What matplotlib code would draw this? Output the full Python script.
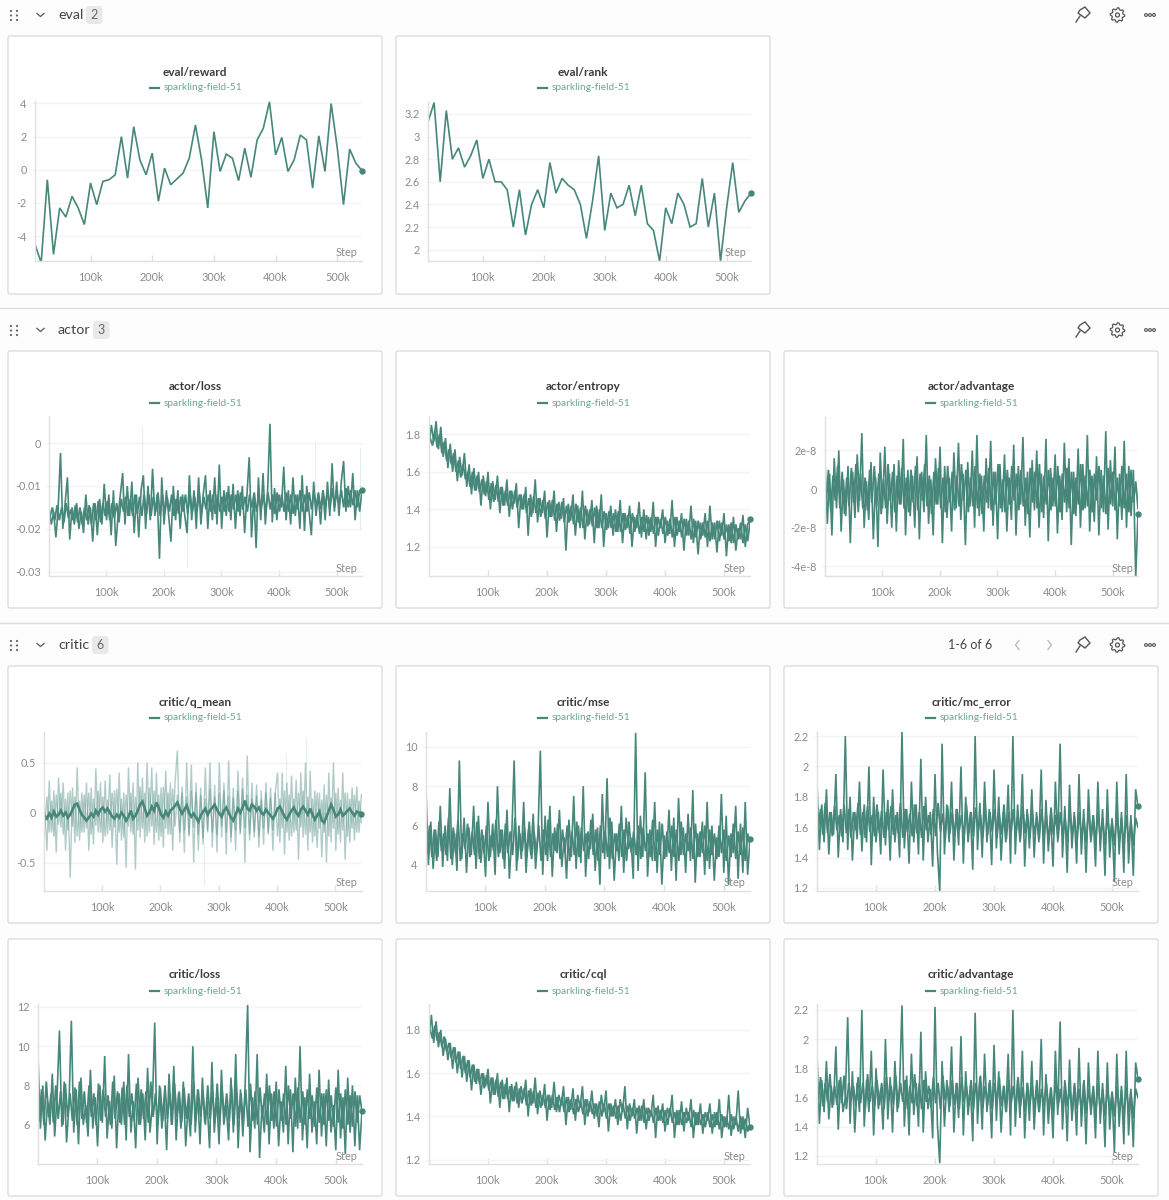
import numpy as np
import matplotlib
matplotlib.use("Agg")
import matplotlib.pyplot as plt
from matplotlib.patches import FancyBboxPatch, Circle, Polygon

plt.rcParams['font.family'] = ['Lato', 'DejaVu Sans']

RUN = "sparkling-field-51"
XTICKS = [100000, 200000, 300000, 400000, 500000]
XLABELS = ["100k", "200k", "300k", "400k", "500k"]

eval_reward = [-4.5, -5.6, -0.6, -5.1, -2.3, -2.85, -1.6, -2.3, -3.3, -0.8, -2.1, -0.7, -0.6, -0.3, 2.0, -0.5, 2.6, 0.6,
               -0.3, 1.0, -1.9, 0.1, -0.9, -0.55, -0.2, 0.7, 2.7, 0.6, -2.3, 2.3, -0.1, 0.95, 0.7, -0.65, 1.3, -0.45,
               1.8, 2.5, 4.1, 0.9, 1.95, -0.1, 0.6, 2.1, 1.8, -1.1, 2.05, -0.1, 4.0, 1.3, -2.1, 1.25, 0.4, -0.05]
eval_rank = [3.13, 3.3, 2.6, 3.23, 2.8, 2.9, 2.73, 2.83, 2.97, 2.63, 2.8, 2.6, 2.6, 2.53, 2.2, 2.53, 2.13, 2.4,
             2.53, 2.37, 2.77, 2.5, 2.63, 2.57, 2.53, 2.4, 2.1, 2.43, 2.83, 2.17, 2.5, 2.37, 2.4, 2.57, 2.3, 2.57,
             2.23, 2.17, 1.9, 2.37, 2.23, 2.5, 2.4, 2.2, 2.23, 2.63, 2.2, 2.5, 1.9, 2.37, 2.77, 2.33, 2.43, 2.5]

# thousandths
actor_loss = [-15, -19, -16, -22, -15, -2.3, -20, -14, -8, -22.5, -15, -19, -14, -20, -16, -21, -12, -19, -15, -23,
              -14, -21.5, -13, -19, -9.5, -18, -12, -21.5, -11, -24, -17, -12, -7, -19, -10, -17, -9, -21, -12, -22,
              -11, -7.5, -20, -10, -18, -6, -17, -12, -27, -8, -19, -11, -17, -23, -10, -18, -11, -20, -12, -17,
              -21, -7.5, -18, -11, -20, -8, -19, -12, -7.5, -20, -11, -18, -8, -19, -5, -20, -11, -17, -10, -18,
              -9.5, -20, -11, -17, -10, -21, -12, -3.3, -22, -12, -24.5, -8, -18, -7, -19, -11, 4.5, -18.5, -10.5, -18,
              -12, -15, -5.5, -18, -11, -19, -8, -17, -12, -20, -7.5, -20.5, -10, -16, -21.5, -9, -17, -12, -19, -11,
              -18, -9, -17, -4.7, -16, -9, -17, -9, -4.2, -16, -10, -15, -7, -18, -11, -16, -11]
actor_loss_b = [-17, -15, -18, -14.5, -18, -15, -18.5, -14, -17.5, -15.5, -18, -14.5, -18.5, -15, -19, -15, -18, -14.5, -19, -14,
                -18, -13.5, -18.5, -14, -17, -13.5, -18, -14, -17.5, -14, -18.5, -13, -16, -12.5, -17, -13, -17, -12, -16.5, -12.5,
                -17, -12, -16.5, -12, -17, -12.5, -16, -11.5, -17, -12, -16.5, -12.5, -16, -12, -17, -13, -16.5, -12.5, -16, -12,
                -16.5, -12, -16, -12.5, -16, -11.5, -16.5, -12.5, -15.5, -12, -16, -12, -16.5, -12, -16, -12.5, -16, -11.5, -16, -12,
                -15.5, -12, -16, -11.5, -15.5, -12.5, -16, -12, -15, -11.5, -16, -12.5, -15.5, -12, -16, -11.5, -15.5, -12, -16.5, -11.5,
                -16, -12, -16, -11.5, -16, -12, -16.5, -12, -15.5, -11, -16, -12, -16, -11.5, -15.5, -11, -15, -11.5, -15.5, -11,
                -15, -11, -15.5, -10.5, -15, -11.5, -14.5, -11, -15, -10.5, -15, -11, -14.5, -11, -15, -11, -12]

actor_entropy = [1.74, 1.85, 1.76, 1.87, 1.72, 1.84, 1.68, 1.78, 1.62, 1.75, 1.6, 1.72, 1.55, 1.68, 1.58, 1.7, 1.52, 1.64, 1.48, 1.62,
                 1.5, 1.6, 1.42, 1.58, 1.47, 1.6, 1.4, 1.55, 1.45, 1.58, 1.38, 1.52, 1.42, 1.56, 1.36, 1.5, 1.43, 1.54, 1.3, 1.48,
                 1.4, 1.52, 1.26, 1.48, 1.38, 1.56, 1.33, 1.46, 1.38, 1.5, 1.25, 1.45, 1.36, 1.5, 1.28, 1.44, 1.35, 1.46, 1.18, 1.43,
                 1.34, 1.48, 1.26, 1.42, 1.3, 1.5, 1.24, 1.4, 1.32, 1.45, 1.22, 1.42, 1.3, 1.48, 1.2, 1.38, 1.3, 1.42, 1.26, 1.4,
                 1.28, 1.45, 1.22, 1.38, 1.3, 1.42, 1.2, 1.36, 1.3, 1.44, 1.25, 1.4, 1.24, 1.36, 1.28, 1.44, 1.2, 1.36, 1.3, 1.4,
                 1.22, 1.34, 1.27, 1.45, 1.2, 1.36, 1.28, 1.38, 1.18, 1.35, 1.26, 1.42, 1.22, 1.34, 1.16, 1.33, 1.26, 1.38, 1.2, 1.42,
                 1.24, 1.33, 1.17, 1.34, 1.26, 1.38, 1.15, 1.32, 1.22, 1.36, 1.18, 1.3, 1.24, 1.37, 1.2, 1.32, 1.35]
actor_entropy_b = [1.78, 1.74, 1.82, 1.73, 1.8, 1.7, 1.76, 1.66, 1.72, 1.64, 1.7, 1.6, 1.66, 1.57, 1.64, 1.56, 1.6, 1.52, 1.6, 1.5,
                   1.58, 1.49, 1.56, 1.48, 1.55, 1.45, 1.54, 1.44, 1.53, 1.44, 1.52, 1.42, 1.5, 1.42, 1.5, 1.4, 1.5, 1.41, 1.48, 1.4,
                   1.48, 1.38, 1.46, 1.36, 1.47, 1.38, 1.46, 1.36, 1.45, 1.35, 1.44, 1.36, 1.45, 1.34, 1.43, 1.34, 1.44, 1.33, 1.42, 1.33,
                   1.42, 1.32, 1.43, 1.33, 1.41, 1.3, 1.42, 1.31, 1.4, 1.31, 1.41, 1.3, 1.4, 1.3, 1.39, 1.29, 1.39, 1.3, 1.38, 1.28,
                   1.39, 1.28, 1.38, 1.29, 1.37, 1.27, 1.38, 1.28, 1.37, 1.27, 1.36, 1.28, 1.37, 1.26, 1.36, 1.27, 1.36, 1.26, 1.35, 1.27,
                   1.36, 1.26, 1.35, 1.25, 1.36, 1.26, 1.34, 1.25, 1.35, 1.26, 1.34, 1.24, 1.35, 1.25, 1.34, 1.24, 1.33, 1.25, 1.34, 1.23,
                   1.33, 1.24, 1.34, 1.23, 1.33, 1.24, 1.32, 1.23, 1.33, 1.22, 1.32, 1.24, 1.33, 1.22, 1.32, 1.23, 1.33]

# units of 1e-8
actor_advantage = [1.5, -1.8, 0.8, -2.4, 1.6, -1, 2.0, -2.2, 0.5, -1.4, 1.2, -2.8, 0.9, -1.5, 1.8, -0.6, 2.9, -2.0, 0.4, -1.6,
                   1.4, -2.6, 0.6, -3.0, 1.9, -1, 2.2, -1.8, 0.8, -2.0, 1.3, -2.2, 1.5, -0.8, 2.6, -2.4, 1.0, -1.4, 0.7, -2.0,
                   1.7, -2.6, 0.9, -1.2, 2.8, -1.8, 0.5, -2.4, 1.6, -0.8, 2.2, -2.8, 1.2, -1.5, 0.6, -2.2, 1.9, -1, 2.4, -1.6,
                   0.8, -2.9, 1.4, -0.9, 2.0, -2.0, 2.8, -1.4, 0.7, -2.2, 1.6, -1, 2.5, -1.9, 0.9, -2.6, 1.3, -1.2, 1.8, -2.2,
                   0.6, -1.6, 2.3, -2.4, 1.2, -0.8, 2.7, -1.9, 0.9, -2.5, 1.5, -1.1, 2.0, -2.0, 0.8, -1.5, 2.6, -2.7, 1.1, -0.9,
                   1.8, -2.3, 0.7, -1.6, 2.4, -1.2, 1.6, -2.9, 0.9, -1.4, 2.1, -2.0, 1.3, -1, 2.8, -2.2, 0.7, -1.7, 1.7, -2.4,
                   1.0, -1.2, 3.0, -2.1, 1.5, -0.9, 2.2, -2.6, 0.8, -1.6, 2.5, -2.0, 1.2, -1.4, 1.0, -4.6, -1.3]
actor_advantage_b = [-0.8, 1.0, -1.1, 0.7, -0.6, 1.2, -1.0, 0.9, -1.3, 0.6, -0.9, 1.1, -0.7, 1.3, -1.2, 0.8, -1.0, 0.6, -1.1, 1.0,
                     -0.7, 1.2, -0.9, 0.8, -1.3, 0.5, -1.0, 1.3, -0.6, 0.9, -1.2, 0.7, -0.8, 1.1, -1.0, 0.6, -1.2, 1.0, -0.7, 1.2,
                     -1.1, 0.8, -0.6, 1.3, -0.9, 0.7, -1.3, 0.9, -0.8, 1.1, -1.0, 0.6, -1.2, 1.2, -0.7, 0.9, -1.1, 0.7, -0.9, 1.3,
                     -0.6, 1.0, -1.2, 0.6, -0.9, 1.2, -1.0, 0.8, -1.3, 0.7, -0.7, 1.1, -1.1, 0.9, -0.8, 1.3, -1.0, 0.5, -1.2, 1.0,
                     -0.8, 1.2, -0.6, 0.8, -1.1, 1.0, -0.9, 0.6, -1.3, 1.1, -0.7, 0.9, -1.0, 1.3, -1.2, 0.7, -0.8, 1.0, -1.1, 0.6,
                     -0.9, 1.2, -1.2, 0.8, -0.7, 1.1, -1.0, 0.9, -1.3, 0.6, -0.8, 1.3, -1.1, 0.7, -0.9, 1.0, -1.2, 0.8, -0.6, 1.2,
                     -1.0, 0.7, -1.3, 1.1, -0.8, 0.9, -1.1, 0.6, -0.9, 1.2, -1.0, 0.8, -1.2, 1.0, -0.7, 0.4, -1.0]

q_mean_raw = [0.05, -0.38, 0.32, -0.2, 0.22, -0.4, 0.35, -0.15, 0.3, -0.38, 0.2, -0.65, 0.25, -0.3, 0.45, -0.28, 0.2, -0.2, 0.3, -0.38,
              0.25, -0.32, 0.44, -0.2, 0.3, -0.3, 0.32, -0.22, 0.38, -0.35, 0.22, -0.52, 0.4, -0.28, 0.2, -0.55, 0.45, -0.2, 0.3, -0.57,
              0.5, -0.25, 0.35, -0.3, 0.5, -0.2, 0.45, -0.32, 0.4, -0.28, 0.25, -0.35, 0.42, -0.22, 0.3, -0.38, 0.3, 0.62, -0.3, 0.2,
              -0.4, 0.5, -0.22, 0.48, -0.5, 0.3, -0.38, 0.25, -0.32, 0.45, -0.2, 0.5, -0.35, 0.28, -0.4, 0.5, -0.25, 0.3, -0.42, 0.52,
              -0.3, 0.25, -0.38, 0.42, -0.22, 0.35, -0.5, 0.57, -0.28, 0.3, -0.25, 0.28, -0.35, 0.22, -0.32, 0.3, -0.2, 0.25, -0.38, 0.2,
              0.4, -0.3, 0.4, -0.42, 0.3, -0.28, 0.37, -0.2, 0.33, -0.47, 0.4, -0.25, 0.5, -0.38, 0.42, -0.3, 0.22, -0.35, 0.2, -0.45,
              0.28, -0.5, 0.4, -0.3, 0.5, -0.38, 0.25, -0.3, 0.4, -0.47, 0.2, -0.3, 0.25, -0.28, 0.26, -0.2, 0.18]
q_mean_raw_b = [-0.15, 0.16, -0.2, 0.12, -0.24, 0.18, -0.12, 0.2, -0.22, 0.14, -0.18, 0.22, -0.14, 0.16, -0.24, 0.12, -0.2, 0.18, -0.16, 0.2,
                -0.22, 0.14, -0.13, 0.22, -0.2, 0.16, -0.24, 0.13, -0.18, 0.2, -0.15, 0.24, -0.2, 0.14, -0.25, 0.18, -0.14, 0.2, -0.22, 0.16,
                -0.18, 0.26, -0.16, 0.2, -0.24, 0.25, -0.14, 0.22, -0.2, 0.18, -0.24, 0.26, -0.16, 0.2, -0.22, 0.24, -0.14, 0.18, -0.2, 0.26,
                -0.18, 0.16, -0.24, 0.22, -0.15, 0.2, -0.22, 0.18, -0.26, 0.14, -0.18, 0.24, -0.2, 0.16, -0.23, 0.2, -0.14, 0.22, -0.2, 0.17,
                -0.25, 0.15, -0.18, 0.22, -0.2, 0.24, -0.16, 0.18, -0.22, 0.14, -0.2, 0.17, -0.24, 0.13, -0.16, 0.2, -0.22, 0.15, -0.18, 0.2,
                -0.24, 0.14, -0.16, 0.22, -0.2, 0.18, -0.24, 0.14, -0.18, 0.2, -0.15, 0.22, -0.22, 0.16, -0.2, 0.14, -0.24, 0.2, -0.16, 0.13,
                -0.2, 0.18, -0.24, 0.15, -0.16, 0.2, -0.22, 0.13, -0.18, 0.2, -0.24, 0.14, -0.16, 0.18, -0.2, 0.12, -0.1]
q_mean_smooth = [-0.03, -0.06, -0.01, -0.05, 0.01, -0.04, -0.02, 0.02, -0.03, 0.0, -0.05, -0.02, 0.03, 0.08, 0.09, 0.03, -0.02, -0.05, -0.08, -0.05,
                 -0.01, -0.04, 0.02, -0.02, 0.03, 0.05, 0.01, 0.04, 0.0, -0.04, -0.06, -0.02, -0.05, 0.0, -0.03, -0.08, -0.04, 0.02, -0.06, -0.03,
                 0.02, 0.08, 0.11, 0.04, -0.03, 0.0, 0.06, 0.02, 0.1, 0.05, -0.02, -0.05, 0.01, -0.03, 0.02, 0.04, 0.07, 0.1, 0.04, -0.01,
                 0.03, 0.07, 0.0, -0.04, -0.01, -0.05, -0.09, -0.03, 0.01, 0.04, -0.02, 0.02, 0.05, 0.08, 0.03, -0.01, -0.04, 0.02, 0.05, 0.0,
                 -0.05, -0.08, -0.02, 0.04, 0.0, 0.05, 0.12, 0.04, 0.02, 0.08, 0.06, 0.02, 0.05, 0.0, -0.02, 0.03, 0.0, -0.03, -0.06, -0.02,
                 0.04, 0.06, 0.01, -0.04, -0.07, -0.02, 0.02, 0.05, 0.0, -0.03, 0.03, 0.06, 0.02, -0.02, 0.04, -0.02, -0.07, -0.03, 0.01, -0.08,
                 -0.1, -0.04, 0.02, 0.08, 0.03, -0.04, -0.02, 0.03, -0.03, -0.01, 0.02, 0.04, 0.0, -0.03, 0.01, 0.0, -0.01]

critic_mse = [7.8, 4.0, 6.2, 3.8, 5.8, 4.4, 7.0, 3.9, 6.0, 4.2, 7.9, 4.0, 5.6, 3.7, 9.3, 4.3, 6.4, 3.6, 5.9, 4.5,
              7.0, 3.8, 6.5, 4.1, 5.5, 3.4, 7.2, 4.4, 6.1, 3.5, 8.0, 4.6, 5.8, 3.8, 6.8, 3.3, 5.5, 9.3, 3.7, 6.0,
              4.3, 7.2, 3.6, 5.8, 4.5, 6.6, 3.8, 5.6, 9.8, 3.5, 6.5, 4.2, 7.0, 3.4, 5.9, 4.6, 6.8, 3.9, 5.4, 3.3,
              6.3, 4.4, 7.5, 3.8, 6.0, 4.1, 8.0, 3.4, 5.7, 4.8, 6.6, 3.7, 5.9, 3.0, 7.6, 4.3, 8.4, 3.8, 6.2, 3.2,
              5.6, 4.2, 7.0, 3.6, 6.4, 4.8, 5.4, 3.3, 10.7, 3.7, 6.5, 4.4, 8.7, 3.4, 5.8, 4.2, 7.2, 3.6, 6.2, 3.0,
              5.5, 4.4, 6.8, 3.7, 6.4, 3.2, 7.4, 4.5, 5.9, 3.6, 6.6, 4.2, 7.8, 3.1, 5.6, 4.4, 6.2, 3.5, 7.2, 3.8,
              6.0, 3.2, 5.4, 4.4, 7.6, 3.6, 6.5, 3.0, 5.6, 4.6, 7.0, 3.3, 6.1, 3.6, 7.2, 3.5, 5.3]
critic_mse_b = [4.6, 6.0, 4.4, 5.8, 4.2, 6.2, 4.7, 5.6, 4.5, 6.4, 4.3, 5.9, 4.6, 6.3, 4.2, 5.6, 4.8, 6.1, 4.4, 5.7,
                4.5, 6.2, 4.3, 5.8, 4.6, 6.0, 4.2, 5.5, 4.7, 6.3, 4.4, 5.8, 4.3, 6.1, 4.6, 5.7, 4.5, 6.4, 4.2, 5.6,
                4.7, 5.9, 4.4, 6.2, 4.3, 5.7, 4.6, 6.0, 4.2, 5.8, 4.5, 6.3, 4.4, 5.6, 4.7, 6.1, 4.3, 5.8, 4.6, 6.0,
                4.2, 5.7, 4.5, 6.2, 4.4, 5.9, 4.7, 5.6, 4.3, 6.3, 4.5, 5.8, 4.2, 6.0, 4.6, 5.7, 4.4, 6.4, 4.3, 5.6,
                4.7, 6.1, 4.4, 5.8, 4.2, 6.2, 4.6, 5.7, 4.5, 6.0, 4.3, 5.9, 4.7, 5.6, 4.4, 6.3, 4.2, 5.8, 4.5, 6.1,
                4.3, 5.7, 4.6, 6.0, 4.4, 5.8, 4.2, 6.2, 4.5, 5.6, 4.7, 5.9, 4.3, 6.1, 4.4, 5.7, 4.6, 6.0, 4.2, 5.8,
                4.5, 5.6, 4.3, 6.0, 4.6, 5.8, 4.2, 5.5, 4.4, 6.1, 4.3, 5.7, 4.5, 5.9, 4.2, 5.6, 5.0]

critic_mc_error = [1.9, 1.45, 1.75, 1.5, 1.85, 1.42, 1.7, 1.55, 1.95, 1.4, 1.72, 1.5, 2.2, 1.45, 1.8, 1.38, 1.7, 1.52, 1.9, 1.44,
                   1.75, 1.5, 2.0, 1.35, 1.8, 1.5, 1.7, 1.42, 1.98, 1.48, 1.78, 1.38, 1.85, 1.5, 1.7, 1.4, 2.23, 1.46, 1.72, 1.36,
                   1.9, 1.5, 1.75, 1.42, 2.05, 1.38, 1.8, 1.5, 1.7, 1.34, 1.95, 1.44, 1.18, 2.15, 1.42, 1.75, 1.5, 1.9, 1.38, 1.72,
                   1.48, 2.0, 1.36, 1.8, 1.5, 1.7, 1.32, 2.2, 1.45, 1.76, 1.4, 1.9, 1.5, 1.72, 1.35, 1.98, 1.46, 1.8, 1.38, 1.7,
                   1.5, 1.88, 1.36, 2.2, 1.42, 1.75, 1.5, 1.95, 1.34, 1.72, 1.46, 1.85, 1.4, 1.7, 1.5, 1.98, 1.36, 1.78, 1.44, 1.68,
                   1.34, 1.9, 1.5, 2.15, 1.4, 1.74, 1.3, 1.88, 1.46, 1.7, 1.36, 1.95, 1.42, 1.72, 1.3, 1.85, 1.5, 1.68, 1.34, 1.9,
                   1.44, 1.72, 1.28, 1.85, 1.4, 1.66, 1.24, 1.9, 1.42, 1.7, 1.3, 1.95, 1.36, 1.68, 1.28, 1.85, 1.74]
critic_mc_error_b = [1.58, 1.72, 1.55, 1.76, 1.56, 1.7, 1.54, 1.74, 1.58, 1.68, 1.54, 1.75, 1.56, 1.72, 1.53, 1.7, 1.58, 1.76, 1.55, 1.7,
                     1.53, 1.74, 1.57, 1.68, 1.54, 1.75, 1.56, 1.71, 1.53, 1.7, 1.58, 1.74, 1.55, 1.68, 1.56, 1.76, 1.53, 1.72, 1.57, 1.69,
                     1.54, 1.75, 1.56, 1.7, 1.53, 1.74, 1.58, 1.68, 1.55, 1.72, 1.54, 1.76, 1.57, 1.69, 1.53, 1.74, 1.56, 1.7, 1.54, 1.72,
                     1.58, 1.68, 1.53, 1.75, 1.56, 1.7, 1.54, 1.73, 1.57, 1.68, 1.53, 1.74, 1.55, 1.7, 1.57, 1.72, 1.53, 1.68, 1.55, 1.75,
                     1.52, 1.7, 1.56, 1.72, 1.54, 1.68, 1.52, 1.74, 1.56, 1.69, 1.53, 1.71, 1.55, 1.67, 1.52, 1.72, 1.54, 1.68, 1.5, 1.73,
                     1.55, 1.68, 1.52, 1.7, 1.54, 1.66, 1.5, 1.72, 1.54, 1.67, 1.5, 1.7, 1.53, 1.66, 1.5, 1.72, 1.52, 1.68, 1.5, 1.7,
                     1.52, 1.66, 1.48, 1.68, 1.52, 1.64, 1.48, 1.7, 1.5, 1.66, 1.48, 1.68, 1.5, 1.64, 1.48, 1.66, 1.6]

critic_loss = [9.5, 5.8, 8.0, 5.2, 7.2, 6.0, 8.6, 5.4, 7.5, 10.8, 5.9, 8.2, 5.1, 7.0, 11.3, 5.6, 7.8, 5.0, 8.4, 6.0,
               7.0, 5.4, 8.8, 5.8, 7.4, 4.9, 8.0, 6.1, 9.5, 5.3, 7.2, 5.8, 8.5, 4.8, 7.6, 6.0, 8.2, 5.2, 9.6, 5.6,
               7.2, 4.8, 8.4, 6.0, 7.6, 5.2, 8.9, 5.6, 7.0, 11.2, 5.0, 8.0, 5.8, 7.4, 4.7, 8.6, 6.0, 9.0, 5.2, 7.6,
               5.8, 8.2, 4.9, 7.0, 5.4, 10.0, 5.6, 7.8, 5.0, 8.4, 6.1, 7.2, 4.8, 9.2, 5.6, 7.4, 5.0, 8.8, 6.0, 7.0,
               5.2, 8.4, 5.6, 9.6, 4.8, 7.8, 5.4, 8.2, 12.1, 4.6, 7.4, 5.8, 9.6, 4.3, 7.0, 5.6, 8.6, 5.0, 7.6, 5.8,
               8.2, 4.9, 7.2, 5.6, 9.0, 5.0, 7.8, 4.6, 8.4, 5.8, 10.0, 5.2, 7.4, 4.8, 8.6, 5.6, 7.2, 5.0, 8.8, 5.4,
               7.6, 4.9, 8.3, 5.6, 7.0, 4.7, 8.8, 5.3, 7.4, 4.5, 8.4, 5.6, 8.0, 4.9, 7.5, 4.7, 6.7]
critic_loss_b = [6.2, 7.8, 6.0, 8.2, 6.4, 7.6, 6.1, 8.0, 6.3, 7.7, 6.0, 8.1, 6.4, 7.6, 6.2, 7.9, 6.0, 8.2, 6.3, 7.7,
                 6.1, 8.0, 6.4, 7.6, 6.0, 8.1, 6.2, 7.8, 6.4, 7.5, 6.0, 8.2, 6.3, 7.7, 6.1, 7.9, 6.0, 8.0, 6.4, 7.6,
                 6.2, 8.1, 6.0, 7.8, 6.3, 7.7, 6.1, 8.2, 6.4, 7.6, 6.0, 7.9, 6.2, 8.0, 6.3, 7.6, 6.0, 8.1, 6.4, 7.7,
                 6.1, 7.9, 6.3, 7.6, 6.0, 8.2, 6.2, 7.8, 6.4, 7.6, 6.0, 8.0, 6.3, 7.7, 6.1, 8.1, 6.0, 7.8, 6.4, 7.6,
                 6.2, 7.9, 6.0, 8.0, 6.3, 7.6, 6.1, 7.8, 5.9, 8.1, 6.2, 7.7, 6.0, 7.9, 6.3, 7.6, 6.0, 8.0, 6.2, 7.7,
                 5.9, 7.8, 6.2, 7.6, 6.0, 8.0, 6.3, 7.6, 5.9, 7.9, 6.1, 7.7, 6.0, 7.8, 6.3, 7.5, 5.9, 7.9, 6.1, 7.6,
                 6.0, 7.8, 6.2, 7.5, 5.9, 7.9, 6.1, 7.6, 5.8, 7.8, 6.0, 7.5, 5.9, 7.7, 6.1, 7.5, 6.7]

critic_cql = [1.76, 1.87, 1.74, 1.84, 1.72, 1.8, 1.68, 1.76, 1.66, 1.74, 1.62, 1.72, 1.6, 1.7, 1.58, 1.68, 1.56, 1.66, 1.52, 1.64,
              1.55, 1.62, 1.5, 1.6, 1.54, 1.62, 1.46, 1.58, 1.5, 1.6, 1.44, 1.57, 1.48, 1.58, 1.42, 1.55, 1.47, 1.56, 1.44, 1.54,
              1.48, 1.57, 1.4, 1.53, 1.46, 1.58, 1.41, 1.52, 1.45, 1.55, 1.38, 1.5, 1.44, 1.56, 1.42, 1.5, 1.45, 1.54, 1.36, 1.49,
              1.43, 1.53, 1.38, 1.5, 1.44, 1.54, 1.36, 1.48, 1.42, 1.52, 1.39, 1.46, 1.35, 1.5, 1.42, 1.52, 1.33, 1.46, 1.4, 1.48,
              1.36, 1.48, 1.42, 1.54, 1.34, 1.46, 1.4, 1.48, 1.32, 1.45, 1.38, 1.48, 1.34, 1.44, 1.4, 1.5, 1.3, 1.45, 1.38, 1.46,
              1.33, 1.44, 1.4, 1.5, 1.3, 1.43, 1.36, 1.47, 1.33, 1.44, 1.38, 1.48, 1.3, 1.42, 1.36, 1.46, 1.32, 1.42, 1.38, 1.46,
              1.32, 1.42, 1.36, 1.48, 1.3, 1.4, 1.35, 1.5, 1.31, 1.4, 1.36, 1.52, 1.32, 1.4, 1.3, 1.44, 1.35]
critic_cql_b = [1.8, 1.76, 1.82, 1.75, 1.79, 1.72, 1.77, 1.7, 1.74, 1.67, 1.72, 1.65, 1.7, 1.62, 1.68, 1.6, 1.66, 1.58, 1.64, 1.56,
                1.62, 1.55, 1.6, 1.53, 1.59, 1.52, 1.58, 1.5, 1.57, 1.49, 1.56, 1.48, 1.55, 1.48, 1.54, 1.47, 1.54, 1.46, 1.53, 1.46,
                1.53, 1.45, 1.52, 1.45, 1.52, 1.44, 1.51, 1.44, 1.5, 1.44, 1.5, 1.43, 1.5, 1.43, 1.49, 1.42, 1.49, 1.42, 1.49, 1.42,
                1.48, 1.41, 1.48, 1.42, 1.47, 1.41, 1.48, 1.4, 1.47, 1.41, 1.46, 1.4, 1.47, 1.4, 1.46, 1.39, 1.46, 1.4, 1.45, 1.39,
                1.45, 1.38, 1.46, 1.39, 1.45, 1.38, 1.44, 1.39, 1.44, 1.38, 1.45, 1.37, 1.44, 1.38, 1.43, 1.37, 1.44, 1.38, 1.43, 1.37,
                1.43, 1.36, 1.44, 1.37, 1.42, 1.36, 1.43, 1.36, 1.42, 1.37, 1.42, 1.35, 1.43, 1.36, 1.42, 1.36, 1.41, 1.35, 1.42, 1.35,
                1.41, 1.35, 1.42, 1.34, 1.41, 1.35, 1.4, 1.34, 1.41, 1.34, 1.4, 1.33, 1.4, 1.34, 1.39, 1.33, 1.36]

critic_advantage = [1.9, 1.42, 1.72, 1.5, 1.85, 1.45, 1.68, 1.55, 1.95, 1.38, 1.74, 1.5, 1.6, 2.15, 1.42, 1.78, 1.36, 1.7, 1.5, 2.2,
                    1.4, 1.72, 1.5, 1.92, 1.34, 1.8, 1.52, 1.66, 1.38, 2.0, 1.45, 1.74, 1.36, 1.85, 1.5, 1.68, 2.23, 1.4, 1.75, 1.34,
                    1.9, 1.48, 1.7, 1.4, 2.05, 1.36, 1.78, 1.52, 1.66, 1.32, 2.22, 1.42, 1.15, 1.85, 1.4, 1.72, 1.5, 1.95, 1.36, 1.7,
                    1.46, 2.02, 1.34, 1.78, 1.48, 1.68, 1.3, 2.18, 1.42, 1.74, 1.38, 1.9, 1.5, 1.7, 1.32, 1.96, 1.44, 1.78, 1.36, 1.68,
                    1.5, 1.9, 1.34, 2.2, 1.4, 1.72, 1.46, 1.92, 1.32, 1.7, 1.44, 1.85, 1.38, 1.68, 1.5, 2.0, 1.34, 1.76, 1.42, 1.66,
                    1.32, 1.92, 1.48, 2.12, 1.38, 1.72, 1.3, 1.86, 1.44, 1.68, 1.34, 1.94, 1.4, 1.7, 1.28, 1.84, 1.48, 1.66, 1.32, 1.92,
                    1.42, 1.7, 1.26, 1.84, 1.38, 1.64, 1.22, 1.9, 1.4, 1.68, 1.28, 1.92, 1.34, 1.66, 1.26, 1.84, 1.73]
critic_advantage_b = [1.56, 1.74, 1.54, 1.7, 1.57, 1.76, 1.53, 1.68, 1.55, 1.72, 1.56, 1.75, 1.52, 1.7, 1.58, 1.68, 1.54, 1.74, 1.56, 1.7,
                      1.52, 1.76, 1.57, 1.68, 1.54, 1.72, 1.55, 1.7, 1.52, 1.74, 1.58, 1.68, 1.55, 1.75, 1.53, 1.7, 1.57, 1.72, 1.52, 1.68,
                      1.56, 1.76, 1.54, 1.7, 1.52, 1.72, 1.57, 1.68, 1.53, 1.74, 1.56, 1.7, 1.52, 1.75, 1.58, 1.68, 1.54, 1.72, 1.55, 1.7,
                      1.52, 1.74, 1.57, 1.68, 1.54, 1.72, 1.52, 1.7, 1.56, 1.75, 1.53, 1.68, 1.55, 1.72, 1.52, 1.7, 1.57, 1.74, 1.54, 1.68,
                      1.5, 1.72, 1.55, 1.68, 1.52, 1.74, 1.54, 1.67, 1.5, 1.7, 1.55, 1.68, 1.52, 1.72, 1.5, 1.66, 1.54, 1.7, 1.52, 1.67,
                      1.49, 1.72, 1.53, 1.66, 1.5, 1.7, 1.54, 1.67, 1.49, 1.7, 1.52, 1.66, 1.5, 1.72, 1.49, 1.66, 1.52, 1.68, 1.48, 1.7,
                      1.5, 1.66, 1.47, 1.68, 1.5, 1.64, 1.47, 1.68, 1.5, 1.65, 1.46, 1.68, 1.5, 1.64, 1.46, 1.66, 1.6]

# faint raw spikes behind the smoothed lines: step, low, high
faint_actor_loss = [(162000, -0.016, 0.004), (240000, -0.029, -0.014), (463000, -0.012, 0.0), (541000, -0.02, -0.001), (128000, -0.014, -0.006)]
faint_q_mean = [(450000, 0.2, 0.75), (275000, -0.72, -0.3), (415000, 0.2, 0.6)]

LINE = '#47877a'
GRID = '#f4f4f4'
AXIS = '#e0e0e0'
TICKTXT = '#8b8b8b'
DARK = '#3b3b3b'

W, H = 1169, 1200
fig = plt.figure(figsize=(W / 100, H / 100), dpi=100, facecolor='#fdfdfd')
bg = fig.add_axes([0, 0, 1, 1])
bg.set_xlim(0, W)
bg.set_ylim(H, 0)
bg.axis('off')


def draw_icons(y, pager=False):
    # drag handle
    for dx in (11, 17):
        for dy in (-4, 0.5, 5):
            bg.add_patch(Circle((dx, y + dy), 1.1, color='#666666', lw=0))
    bg.plot([37, 40.5, 44], [y - 1.5, y + 1.5, y - 1.5], color='#666666', lw=1)
    # pin
    cx = 1083
    bg.add_patch(Polygon([(cx - 3, y - 5), (cx + 2, y - 8), (cx + 7, y - 2), (cx + 3, y + 2), (cx + 2, y + 3), (cx - 5, y - 2)],
                         closed=True, fill=False, ec='#555555', lw=1))
    bg.plot([cx - 3, cx - 7], [y + 1, y + 7], color='#555555', lw=1)
    # gear
    ang = np.linspace(0, 2 * np.pi, 33)
    rad = np.tile([7.2, 7.2, 5.6, 5.6], 8)
    bg.add_patch(Polygon(np.column_stack([1117.5 + rad * np.cos(ang[:-1]), y + rad * np.sin(ang[:-1])]),
                         closed=True, fill=False, ec='#555555', lw=0.9))
    bg.add_patch(Circle((1117.5, y), 2, fill=False, ec='#555555', lw=0.9))
    # dots
    for cx in (1146, 1150, 1154):
        bg.add_patch(Circle((cx, y), 1.4, fill=False, ec='#555555', lw=0.8))
    if pager:
        bg.text(970, y, "1-6 of 6", fontsize=9, color='#444444', ha='center', va='center')
        bg.plot([1019, 1015.5, 1019], [y - 4.5, y, y + 4.5], color='#bdbdbd', lw=1)
        bg.plot([1048, 1051.5, 1048], [y - 4.5, y, y + 4.5], color='#bdbdbd', lw=1)


def draw_section(y, name, count, name_w, pager=False):
    draw_icons(y, pager)
    bg.text(58, y, name, fontsize=10.3, color='#444444', ha='left', va='center')
    bx = 58 + name_w
    bg.add_patch(FancyBboxPatch((bx, y - 9), 16.5, 18, boxstyle="round,pad=0,rounding_size=3", fc='#e9e9e9', ec='none'))
    bg.text(bx + 8.2, y, str(count), fontsize=9, color='#666666', ha='center', va='center')


def panel(card, box, xlim, ylim, yticks, ylabels, title, series=None, inner=None, x0=None, x1=None, faint=None, raw=None, scale=1.0):
    cl, ct, cr, cb = card
    bg.add_patch(FancyBboxPatch((cl, ct), cr - cl, cb - ct, boxstyle="round,pad=0,rounding_size=2",
                                fc='white', ec='#d9d9d9', lw=0.9))
    cx = (cl + cr) / 2
    bg.text(cx, ct + 36, title, fontsize=8.6, fontweight='bold', color=DARK, ha='center', va='center')
    bg.plot([cx - 45, cx - 36], [ct + 51.5, ct + 51.5], color=LINE, lw=1.6)
    bg.text(cx - 31, ct + 52, RUN, fontsize=7.3, color='#6fa396', ha='left', va='center')

    l, t, r, b = box
    ax = fig.add_axes([l / W, 1 - b / H, (r - l) / W, (b - t) / H])
    ax.patch.set_alpha(0)
    for s in ('top', 'right'):
        ax.spines[s].set_visible(False)
    for s in ('left', 'bottom'):
        ax.spines[s].set_color(AXIS)
        ax.spines[s].set_linewidth(1)
    ax.set_xlim(*xlim)
    ax.set_ylim(*ylim)
    ax.set_xticks(XTICKS)
    ax.set_xticklabels(XLABELS)
    ax.set_yticks(yticks)
    ax.set_yticklabels(ylabels)
    ax.tick_params(axis='x', direction='in', length=4, width=1, color=AXIS, labelsize=7.8, labelcolor=TICKTXT, pad=8)
    ax.tick_params(axis='y', length=2, width=0.8, color=GRID, labelsize=7.8, labelcolor=TICKTXT, pad=4)
    ax.grid(axis='y', color=GRID, lw=1)
    ax.set_axisbelow(True)
    fig.text((r - 5) / W, 1 - (b - 8) / H, "Step", fontsize=7.8, color=TICKTXT, ha='right', va='center', zorder=6)

    if faint:
        for step, lo, hi in faint:
            ax.vlines(step, lo, hi, color=LINE, alpha=0.14, lw=0.8)
    if raw is not None:
        for rr in raw:
            xr = np.linspace(x0, x1, len(rr))
            ax.plot(xr, rr, color=LINE, lw=1.0, alpha=0.42, solid_joinstyle='miter')
    y = np.array(series) * scale
    x = np.linspace(x0, x1, len(y))
    if inner is not None:
        ax.plot(np.linspace(x0 + 2000, x1, len(inner)), np.array(inner) * scale, color=LINE, lw=1.3, solid_joinstyle='miter')
    ax.plot(x, y, color=LINE, lw=1.9 if raw is not None else 1.2, solid_joinstyle='miter')
    ax.plot(x[-1], y[-1], 'o', color=LINE, ms=3.6, clip_on=False, zorder=5)
    return ax


# sections
draw_section(15, "eval", 2, 28)
draw_section(330, "actor", 3, 35)
draw_section(645, "critic", 6, 34, pager=True)
bg.plot([0, W], [308, 308], color='#dddddd', lw=1)
bg.plot([0, W], [623, 623], color='#dddddd', lw=1)

panel((8, 36, 382, 294), (35, 101, 362, 261), (10000, 540000), (-5.5, 4.15), [-4, -2, 0, 2, 4], ["-4", "-2", "0", "2", "4"],
      "eval/reward", eval_reward, None, 10000, 540000)
panel((396, 36, 770, 294), (428, 101.5, 751, 261), (10000, 540000), (1.9, 3.31), [2, 2.2, 2.4, 2.6, 2.8, 3, 3.2],
      ["2", "2.2", "2.4", "2.6", "2.8", "3", "3.2"], "eval/rank", eval_rank, None, 10000, 540000)

panel((8, 351, 382, 608), (49, 416.5, 362, 576), (1000, 544000), (-0.031, 0.0062), [-0.03, -0.02, -0.01, 0],
      ["-0.03", "-0.02", "-0.01", "0"], "actor/loss", actor_loss, actor_loss_b, 1000, 544000, faint=faint_actor_loss, scale=1e-3)
panel((396, 351, 770, 608), (429, 416.5, 750, 576), (1000, 544000), (1.045, 1.895), [1.2, 1.4, 1.6, 1.8],
      ["1.2", "1.4", "1.6", "1.8"], "actor/entropy", actor_entropy, actor_entropy_b, 1000, 544000)
panel((784, 351, 1158, 608), (825, 416.5, 1138, 576), (1000, 544000), (-4.5e-8, 3.76e-8), [-4e-8, -2e-8, 0, 2e-8],
      ["-4e-8", "-2e-8", "0", "2e-8"], "actor/advantage", actor_advantage, actor_advantage_b, 1000, 544000, scale=1e-8)

panel((8, 666, 382, 923), (44, 731.5, 362, 891), (0, 546000), (-0.783, 0.81), [-0.5, 0, 0.5], ["-0.5", "0", "0.5"],
      "critic/q_mean", q_mean_smooth, None, 1000, 545000, faint=faint_q_mean, raw=[q_mean_raw, q_mean_raw_b])
panel((396, 666, 770, 923), (426, 731.5, 750, 891), (1000, 544000), (2.68, 10.77), [4, 6, 8, 10], ["4", "6", "8", "10"],
      "critic/mse", critic_mse, critic_mse_b, 1000, 544000)
panel((784, 666, 1158, 923), (817, 731.5, 1138, 891), (1000, 544000), (1.18, 2.23), [1.2, 1.4, 1.6, 1.8, 2, 2.2],
      ["1.2", "1.4", "1.6", "1.8", "2", "2.2"], "critic/mc_error", critic_mc_error, critic_mc_error_b, 1000, 544000)

panel((8, 939, 382, 1196), (38, 1004, 362, 1164), (1000, 544000), (4.0, 12.15), [6, 8, 10, 12], ["6", "8", "10", "12"],
      "critic/loss", critic_loss, critic_loss_b, 1000, 544000)
panel((396, 939, 770, 1196), (429, 1004, 750, 1164), (1000, 544000), (1.18, 1.92), [1.2, 1.4, 1.6, 1.8],
      ["1.2", "1.4", "1.6", "1.8"], "critic/cql", critic_cql, critic_cql_b, 1000, 544000)
panel((784, 939, 1158, 1196), (817, 1004, 1138, 1164), (1000, 544000), (1.145, 2.24), [1.2, 1.4, 1.6, 1.8, 2, 2.2],
      ["1.2", "1.4", "1.6", "1.8", "2", "2.2"], "critic/advantage", critic_advantage, critic_advantage_b, 1000, 544000)

fig.savefig("out.png", dpi=100, facecolor=fig.get_facecolor())
plt.close(fig)
